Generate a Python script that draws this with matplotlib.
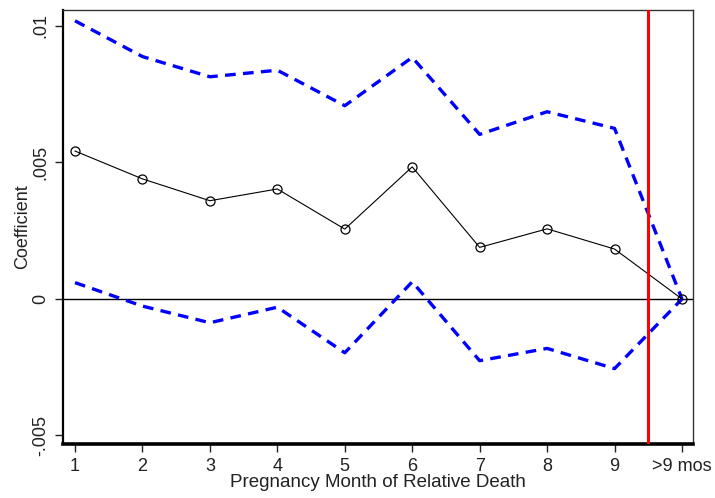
import matplotlib
matplotlib.use("Agg")
import matplotlib.pyplot as plt

months = [1, 2, 3, 4, 5, 6, 7, 8, 9, 10]
tick_labels = ["1", "2", "3", "4", "5", "6", "7", "8", "9", ">9 mos"]
coef = [0.00542, 0.00440, 0.00360, 0.00403, 0.00256, 0.00484, 0.00189, 0.00257, 0.00183, 0.0]
upper = [0.01019, 0.00888, 0.00814, 0.00838, 0.00708, 0.00885, 0.00603, 0.00686, 0.00625, 0.0]
lower = [0.00060, -0.00026, -0.00087, -0.00030, -0.00197, 0.00063, -0.00226, -0.00181, -0.00255, 0.0]
yticks = [-0.005, 0, 0.005, 0.01]
ytick_labels = ["-.005", "0", ".005", ".01"]
cutoff = 9.5

plt.rcParams['font.family'] = ['Liberation Sans', 'DejaVu Sans']

fig = plt.figure(figsize=(7.15, 4.98), dpi=100)
ax = fig.add_axes([63/715, 1 - 444/498, (693-63)/715, (444-10)/498])

ax.axhline(0, color='black', lw=1.0, zorder=1)
ax.plot(months, upper, color='#0000ff', lw=2.4, ls=(0, (3.2, 2.2)), zorder=2)
ax.plot(months, lower, color='#0000ff', lw=2.4, ls=(0, (3.2, 2.2)), zorder=2)
ax.plot(months, coef, color='black', lw=0.8, marker='o', markersize=6.5,
        markerfacecolor='none', markeredgecolor='black', markeredgewidth=0.9, zorder=3)
ax.axvline(cutoff, color='#ff0000', lw=2.2, zorder=4)

ax.set_xlim(1 - 12/67.4, 10 + 11/67.4)
ax.set_ylim(-(444-299)/27300, (299-10)/27300)

ax.set_xticks(months)
ax.set_xticklabels(tick_labels, fontsize=13, color='#222222')
ax.set_yticks(yticks)
ax.set_yticklabels(ytick_labels, fontsize=13, rotation=90, va='center', color='#222222')
ax.tick_params(axis='both', direction='out', length=6, width=1.0, color='#222222', pad=4)

ax.set_xlabel("Pregnancy Month of Relative Death", fontsize=13.5, color='#222222', labelpad=-1)
ax.set_ylabel("Coefficient", fontsize=13, color='#222222', labelpad=1)

ax.spines['left'].set_linewidth(1.6)
ax.spines['bottom'].set_linewidth(2.6)
ax.spines['top'].set_linewidth(1.0)
ax.spines['right'].set_linewidth(1.0)
for s in ['top', 'right']:
    ax.spines[s].set_color('#333333')

fig.savefig("out.png", dpi=100, facecolor='white')
